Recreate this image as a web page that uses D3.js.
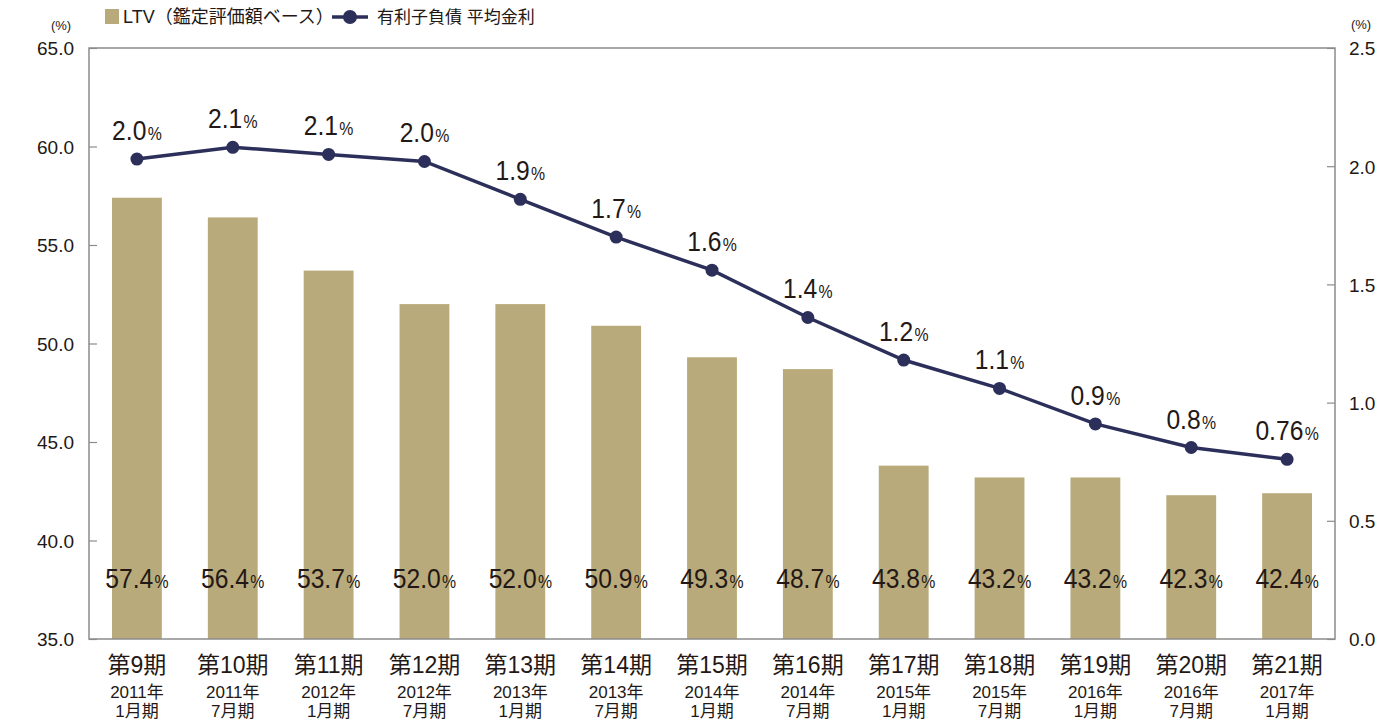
<!DOCTYPE html>
<html><head><meta charset="utf-8">
<script src="https://cdn.jsdelivr.net/npm/d3@7"></script>
<style>
body{margin:0;background:#fff;}
text{font-family:"Liberation Sans","Noto Sans CJK JP",sans-serif;fill:#231815;}
</style></head>
<body><svg id="c" width="1385" height="722"></svg>
<script>
const periods = ["第9期","第10期","第11期","第12期","第13期","第14期","第15期","第16期","第17期","第18期","第19期","第20期","第21期"];
const years = ["2011年","2011年","2012年","2012年","2013年","2013年","2014年","2014年","2015年","2015年","2016年","2016年","2017年"];
const months = ["1月期","7月期","1月期","7月期","1月期","7月期","1月期","7月期","1月期","7月期","1月期","7月期","1月期"];
const ltv = [57.4,56.4,53.7,52.0,52.0,50.9,49.3,48.7,43.8,43.2,43.2,42.3,42.4];
const rate = [2.03,2.08,2.05,2.02,1.86,1.70,1.56,1.36,1.18,1.06,0.91,0.81,0.76];
const rateLabels = ["2.0","2.1","2.1","2.0","1.9","1.7","1.6","1.4","1.2","1.1","0.9","0.8","0.76"];
const leftTicks = [35,40,45,50,55,60,65];
const rightTicks = [0,0.5,1.0,1.5,2.0,2.5];

const svg = d3.select("#c");
const L=89, R=1335, T=48, B=639;
const barColor="#b8aa7a", lineColor="#2c2f5a", axisColor="#8c8c8c";
const SX = 0.88;

const x = d3.scaleBand().domain(periods).range([L,R]).paddingInner(0.48).paddingOuter(0.24);
const yL = d3.scaleLinear().domain([35,65]).range([B,T]);
const yR = d3.scaleLinear().domain([0,2.5]).range([B,T]);
const cx = i=>x(periods[i])+x.bandwidth()/2;

// bars
svg.append("g").selectAll("rect").data(ltv).join("rect")
  .attr("x",(d,i)=>x(periods[i])).attr("width",x.bandwidth())
  .attr("y",d=>yL(d)).attr("height",d=>B-yL(d)).attr("fill",barColor);

// frame
svg.append("path").attr("d",`M${L},${B}V${T}H${R}V${B}Z`).attr("fill","none").attr("stroke",axisColor).attr("stroke-width",1.5);

// left axis
const gl = svg.append("g").attr("transform",`translate(${L},0)`)
  .call(d3.axisRight(yL).tickValues(leftTicks).tickSize(8).tickFormat(d3.format(".1f")));
gl.select(".domain").remove();
gl.selectAll("line").attr("stroke",axisColor).attr("stroke-width",1.2);
gl.selectAll("text").attr("x",-15).attr("text-anchor","end").attr("font-size",19).attr("dy","0.36em");

// right axis
const gr = svg.append("g").attr("transform",`translate(${R},0)`)
  .call(d3.axisLeft(yR).tickValues(rightTicks).tickSize(8).tickFormat(d3.format(".1f")));
gr.select(".domain").remove();
gr.selectAll("line").attr("stroke",axisColor).attr("stroke-width",1.2);
gr.selectAll("text").attr("x",14).attr("text-anchor","start").attr("font-size",19).attr("dy","0.36em");

// units
svg.append("text").attr("x",61).attr("y",30).attr("text-anchor","middle").attr("font-size",13).text("(%)");
svg.append("text").attr("x",1361).attr("y",29).attr("text-anchor","middle").attr("font-size",13).text("(%)");

// bar labels
const bl = svg.append("g").selectAll("g").data(ltv).join("g")
  .attr("transform",(d,i)=>`translate(${cx(i)},588) scale(${SX},1)`)
  .append("text").attr("text-anchor","middle");
bl.append("tspan").attr("font-size",28).text(d=>d.toFixed(1));
bl.append("tspan").attr("font-size",18).attr("dx",1.5).text("%");

// line
svg.append("path").datum(rate)
  .attr("d",d3.line().x((d,i)=>cx(i)).y(d=>yR(d)))
  .attr("fill","none").attr("stroke",lineColor).attr("stroke-width",3.5);
svg.append("g").selectAll("circle").data(rate).join("circle")
  .attr("cx",(d,i)=>cx(i)).attr("cy",d=>yR(d)).attr("r",6.5).attr("fill",lineColor);
const ll = svg.append("g").selectAll("g").data(rate).join("g")
  .attr("transform",(d,i)=>`translate(${cx(i)},${yR(d)-19}) scale(${SX},1)`)
  .append("text").attr("text-anchor","middle");
ll.append("tspan").attr("font-size",28).text((d,i)=>rateLabels[i]);
ll.append("tspan").attr("font-size",18).attr("dx",1.5).text("%");

// x labels
const xl = svg.append("g").selectAll("g").data(periods).join("g")
  .attr("transform",(d,i)=>`translate(${cx(i)},0)`);
xl.append("text").attr("y",673).attr("text-anchor","middle").attr("font-size",23).text(d=>d);
xl.append("text").attr("y",698).attr("text-anchor","middle").attr("font-size",17).text((d,i)=>years[i]);
xl.append("text").attr("y",717).attr("text-anchor","middle").attr("font-size",17).text((d,i)=>months[i]);

// legend
svg.append("rect").attr("x",105).attr("y",9).attr("width",14).attr("height",15).attr("fill",barColor);
svg.append("text").attr("x",123).attr("y",23).attr("font-size",18).text("LTV（鑑定評価額ベース）");
svg.append("line").attr("x1",332).attr("x2",368).attr("y1",17).attr("y2",17).attr("stroke",lineColor).attr("stroke-width",3.5);
svg.append("circle").attr("cx",350).attr("cy",17).attr("r",7).attr("fill",lineColor);
svg.append("text").attr("x",377).attr("y",23).attr("font-size",17).text("有利子負債 平均金利");
</script></body></html>
